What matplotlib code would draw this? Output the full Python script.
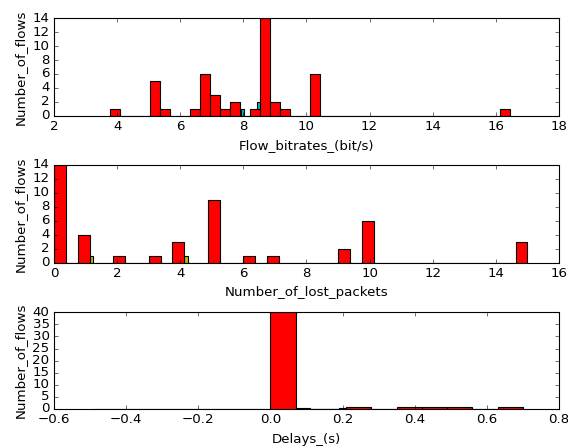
import numpy as np
import matplotlib
matplotlib.use("Agg")
import matplotlib.pyplot as plt

plt.style.use("classic")
plt.rcParams['font.family'] = ['DejaVu Sans']

# Panel 1: flow bitrates
bitrate_edges = np.linspace(3.77, 16.45, 41)
bitrate_counts = [1, 0, 0, 0, 5, 1, 0, 0, 1, 6, 3, 1, 2, 0, 1, 14, 2, 1, 0, 0,
                  6, 0, 0, 0, 0, 0, 0, 0, 0, 0, 0, 0, 0, 0, 0, 0, 0, 0, 0, 1]
bitrate_cyan_left = [7.93, 8.42]
bitrate_cyan_width = [0.09, 0.12]
bitrate_cyan_counts = [1, 2]

# Panel 2: lost packets
lost_edges = np.linspace(0, 15, 41)
lost_counts = [14, 0, 4, 0, 0, 1, 0, 0, 1, 0, 3, 0, 0, 9, 0, 0, 1, 0, 1, 0,
               0, 0, 0, 0, 2, 0, 6, 0, 0, 0, 0, 0, 0, 0, 0, 0, 0, 0, 0, 3]
lost_yellow_left = [1.125, 4.125]
lost_yellow_counts = [1, 1]

# Panel 3: delays
delay_edges = np.linspace(0, 0.7, 11)
delay_counts = [40, 0, 0, 1, 0, 1, 1, 1, 0, 1]
delay_blue_edges = np.linspace(-0.49, 0.21, 36)
delay_blue_counts = [0] * 35
delay_blue_counts[28] = 0.6
delay_blue_counts[29] = 0.6
delay_blue_counts[34] = 0.6

fig = plt.figure(figsize=(7.1, 5.6), dpi=80, facecolor='white')
L, W = 0.0951, 0.889
ax1 = fig.add_axes([L, 0.7417, W, 0.2176])
ax2 = fig.add_axes([L, 0.4136, W, 0.2181])
ax3 = fig.add_axes([L, 0.0871, W, 0.2158])

def hist_bars(ax, edges, counts, color, z):
    edges = np.asarray(edges)
    ax.bar(edges[:-1], counts, width=np.diff(edges), align='edge',
           color=color, edgecolor='black', linewidth=1.0, zorder=z)

# Panel 1
ax1.bar(bitrate_cyan_left, bitrate_cyan_counts, width=bitrate_cyan_width,
        align='edge', color='c', edgecolor='black', linewidth=1.0, zorder=1)
hist_bars(ax1, bitrate_edges, bitrate_counts, 'r', 2)
ax1.set_xlim(2, 18)
ax1.set_ylim(0, 14)
ax1.set_xticks(np.arange(2, 19, 2))
ax1.set_yticks(np.arange(0, 15, 2))
ax1.set_xlabel("Flow_bitrates_(bit/s)", fontsize=12)
ax1.set_ylabel("Number_of_flows", fontsize=12)

# Panel 2
ax2.bar(lost_yellow_left, lost_yellow_counts, width=0.125, align='edge',
        color='y', edgecolor='black', linewidth=1.0, zorder=1)
hist_bars(ax2, lost_edges, lost_counts, 'r', 2)
ax2.set_xlim(0, 16)
ax2.set_ylim(0, 14)
ax2.set_xticks(np.arange(0, 17, 2))
ax2.set_yticks(np.arange(0, 15, 2))
ax2.set_xlabel("Number_of_lost_packets", fontsize=12)
ax2.set_ylabel("Number_of_flows", fontsize=12)

# Panel 3
hist_bars(ax3, delay_blue_edges, delay_blue_counts, 'b', 1)
hist_bars(ax3, delay_edges, delay_counts, 'r', 2)
ax3.set_xlim(-0.6, 0.8)
ax3.set_ylim(0, 40)
ax3.set_xticks(np.arange(-0.6, 0.81, 0.2))
ax3.set_yticks(np.arange(0, 41, 5))
ax3.set_xlabel("Delays_(s)", fontsize=12, labelpad=6)
ax3.set_ylabel("Number_of_flows", fontsize=12)

for ax in (ax1, ax2, ax3):
    ax.tick_params(labelsize=12)

fig.savefig("out.png", dpi=80, facecolor='white')
